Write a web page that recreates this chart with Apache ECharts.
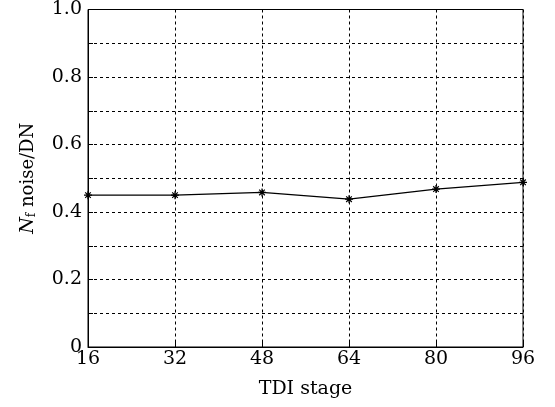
<!DOCTYPE html>
<html><head><meta charset="utf-8">
<script src="https://cdn.jsdelivr.net/npm/echarts@6/dist/echarts.min.js"></script>
<style>html,body{margin:0;padding:0;background:#fff}#c{width:555px;height:407px}</style>
</head><body><div id="c"></div>
<script>
const stages = [16, 32, 48, 64, 80, 96];
const noise = [0.450, 0.450, 0.458, 0.438, 0.468, 0.488];
const yTickLabels = ['0', '0.2', '0.4', '0.6', '0.8', '1.0'];

const FONT = 'DejaVu Serif';
const chart = echarts.init(document.getElementById('c'));
const star = 'path://M0,-5L0,5M-5,0L5,0M-3.5,-3.5L3.5,3.5M-3.5,3.5L3.5,-3.5';
chart.setOption({
  animation: false,
  backgroundColor: '#fff',
  grid: {left: 88, right: 32, top: 5, bottom: 60, show: true, borderColor: '#000', borderWidth: 1},
  xAxis: {
    type: 'value', min: 16, max: 96, interval: 16,
    name: 'TDI stage', nameLocation: 'middle', nameGap: 33,
    nameTextStyle: {fontFamily: FONT, fontSize: 19, color: '#000'},
    axisLine: {lineStyle: {color: '#000', width: 1}},
    axisTick: {show: true, inside: true, length: 5, lineStyle: {color: '#000'}},
    axisLabel: {fontFamily: FONT, fontSize: 19, color: '#000', margin: 3},
    splitLine: {show: true, lineStyle: {color: '#000', type: [3, 3], width: 1}}
  },
  yAxis: {
    type: 'value', min: 0, max: 1, interval: 0.1,
    name: '{i|N}{s|f} noise/DN', nameLocation: 'middle', nameGap: 50,
    nameTextStyle: {fontFamily: FONT, fontSize: 18, color: '#000',
      rich: {i: {fontFamily: FONT, fontStyle: 'italic', fontSize: 19, color: '#000'},
             s: {fontFamily: FONT, fontSize: 12, color: '#000', verticalAlign: 'bottom', padding: [6, 0, 0, 0]}}},
    axisLine: {lineStyle: {color: '#000', width: 1}},
    axisTick: {show: true, inside: true, length: 5, lineStyle: {color: '#000'}},
    axisLabel: {fontFamily: FONT, fontSize: 19, color: '#000', margin: 6,
      formatter: function (v) {
        const k = Math.round(v * 10);
        if (k % 2 !== 0) return '';
        return yTickLabels[k / 2];
      }},
    splitLine: {show: true, lineStyle: {color: '#000', type: [3, 3], width: 1}}
  },
  series: [{
    type: 'line',
    data: stages.map((s, i) => [s, noise[i]]),
    symbol: star, symbolSize: 8, showSymbol: true,
    lineStyle: {color: '#000', width: 1.2},
    itemStyle: {color: '#000', borderColor: '#000', borderWidth: 1.2}
  }]
});
</script></body></html>
